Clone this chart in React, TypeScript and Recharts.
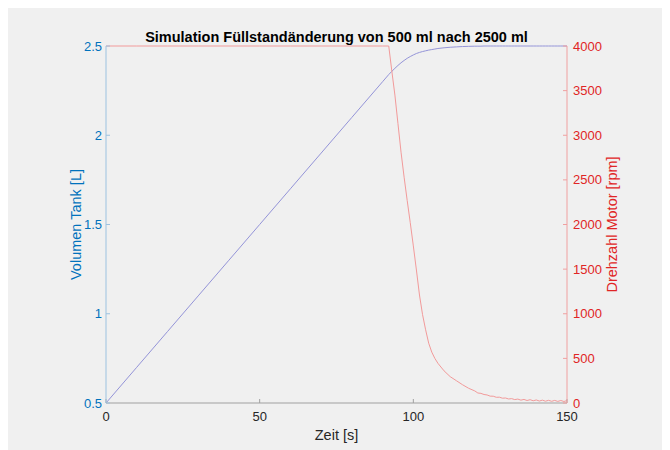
import { LineChart, Line, XAxis, YAxis } from 'recharts';

// Zeitpunkte [s]
const zeit = [
  0, 10, 20, 30, 40, 50, 60, 70, 80, 90, 92, 93, 94, 95, 96, 97, 98, 99, 100,
  101, 102, 103, 104, 105, 106, 107, 108, 110, 112, 114, 116, 118, 120, 121,
  122, 123, 124, 125, 126, 127, 128, 129, 130, 131, 132, 133, 134, 135, 136,
  137, 138, 139, 140, 141, 142, 143, 144, 145, 146, 147, 148, 149, 150,
];

// Volumen im Tank [L]
const volumen = [
  0.5, 0.7, 0.9, 1.1, 1.3, 1.5, 1.7, 1.9, 2.1, 2.3, 2.34, 2.358, 2.375, 2.391,
  2.406, 2.419, 2.431, 2.441, 2.45, 2.458, 2.464, 2.469, 2.473, 2.477, 2.48,
  2.483, 2.486, 2.49, 2.493, 2.495, 2.497, 2.498, 2.499, 2.499, 2.499, 2.5,
  2.5, 2.5, 2.5, 2.5, 2.5, 2.5, 2.5, 2.5, 2.5, 2.5, 2.5, 2.5, 2.5, 2.5, 2.5,
  2.5, 2.5, 2.5, 2.5, 2.5, 2.5, 2.5, 2.5, 2.5, 2.5, 2.5, 2.5,
];

// Drehzahl Motor [rpm]
const drehzahl = [
  4000, 4000, 4000, 4000, 4000, 4000, 4000, 4000, 4000, 4000, 4000, 3720,
  3450, 3130, 2810, 2530, 2270, 2020, 1760, 1490, 1210, 990, 820, 670, 570,
  500, 445, 360, 295, 250, 205, 165, 135, 112, 108, 95, 90, 77, 76, 64, 65,
  54, 56, 45, 49, 38, 44, 32, 40, 28, 37, 25, 34, 22, 32, 20, 30, 19, 29, 18,
  28, 17, 27,
];

const zeitTicks = [0, 50, 100, 150];
const volumenTicks = [0.5, 1, 1.5, 2, 2.5];
const drehzahlTicks = [0, 500, 1000, 1500, 2000, 2500, 3000, 3500, 4000];

const BLAU = '#0072BD';
const ROT = '#E02525';

const data = zeit.map((t, i) => ({
  t,
  volumen: volumen[i],
  drehzahl: drehzahl[i],
}));

export default function App() {
  return (
    <div
      style={{
        position: 'relative',
        width: 662,
        height: 443,
        background: '#f0f0f0',
        fontFamily: '"Liberation Sans", Arial, sans-serif',
      }}
    >
      <div
        style={{
          position: 'absolute',
          left: 98,
          width: 461,
          top: 21,
          textAlign: 'center',
          fontWeight: 'bold',
          fontSize: 14.5,
          color: '#000',
        }}
      >
        Simulation Füllstandänderung von 500 ml nach 2500 ml
      </div>
      <LineChart
        width={662}
        height={443}
        data={data}
        margin={{ top: 38, right: 13, left: 38, bottom: 0 }}
      >
        <XAxis
          xAxisId="unten"
          dataKey="t"
          type="number"
          domain={[0, 150]}
          ticks={zeitTicks}
          height={48}
          stroke="#a0a0a0"
          tickSize={-4}
          tickMargin={13}
          tick={{ fontSize: 13, fill: '#262626' }}
          label={{
            value: 'Zeit [s]',
            position: 'insideBottom',
            offset: 11,
            fontSize: 14.5,
            fill: '#262626',
          }}
        />
        <XAxis
          xAxisId="oben"
          orientation="top"
          dataKey="t"
          type="number"
          domain={[0, 150]}
          ticks={zeitTicks}
          height={0}
          stroke="#a0a0a0"
          tickSize={-4}
          tick={false}
        />
        <YAxis
          yAxisId="links"
          orientation="left"
          type="number"
          domain={[0.5, 2.5]}
          ticks={volumenTicks}
          width={60}
          stroke="#9cc2e0"
          tickSize={-4}
          tickMargin={8}
          tick={{ fontSize: 13, fill: BLAU }}
          label={{
            value: 'Volumen Tank [L]',
            angle: -90,
            position: 'center',
            fontSize: 14.5,
            fill: BLAU,
          }}
        />
        <YAxis
          yAxisId="rechts"
          orientation="right"
          type="number"
          domain={[0, 4000]}
          ticks={drehzahlTicks}
          width={90}
          stroke="#f0a0a0"
          tickSize={-4}
          tickMargin={10}
          tick={{ fontSize: 13, fill: ROT }}
          label={{
            value: 'Drehzahl Motor [rpm]',
            angle: -90,
            position: 'center',
            fontSize: 14.5,
            fill: ROT,
          }}
        />
        <Line
          xAxisId="unten"
          yAxisId="links"
          type="linear"
          dataKey="volumen"
          stroke="#9494d8"
          strokeWidth={1}
          dot={false}
          isAnimationActive={false}
        />
        <Line
          xAxisId="unten"
          yAxisId="rechts"
          type="linear"
          dataKey="drehzahl"
          stroke="#f29a9a"
          strokeWidth={1}
          dot={false}
          isAnimationActive={false}
        />
      </LineChart>
    </div>
  );
}
